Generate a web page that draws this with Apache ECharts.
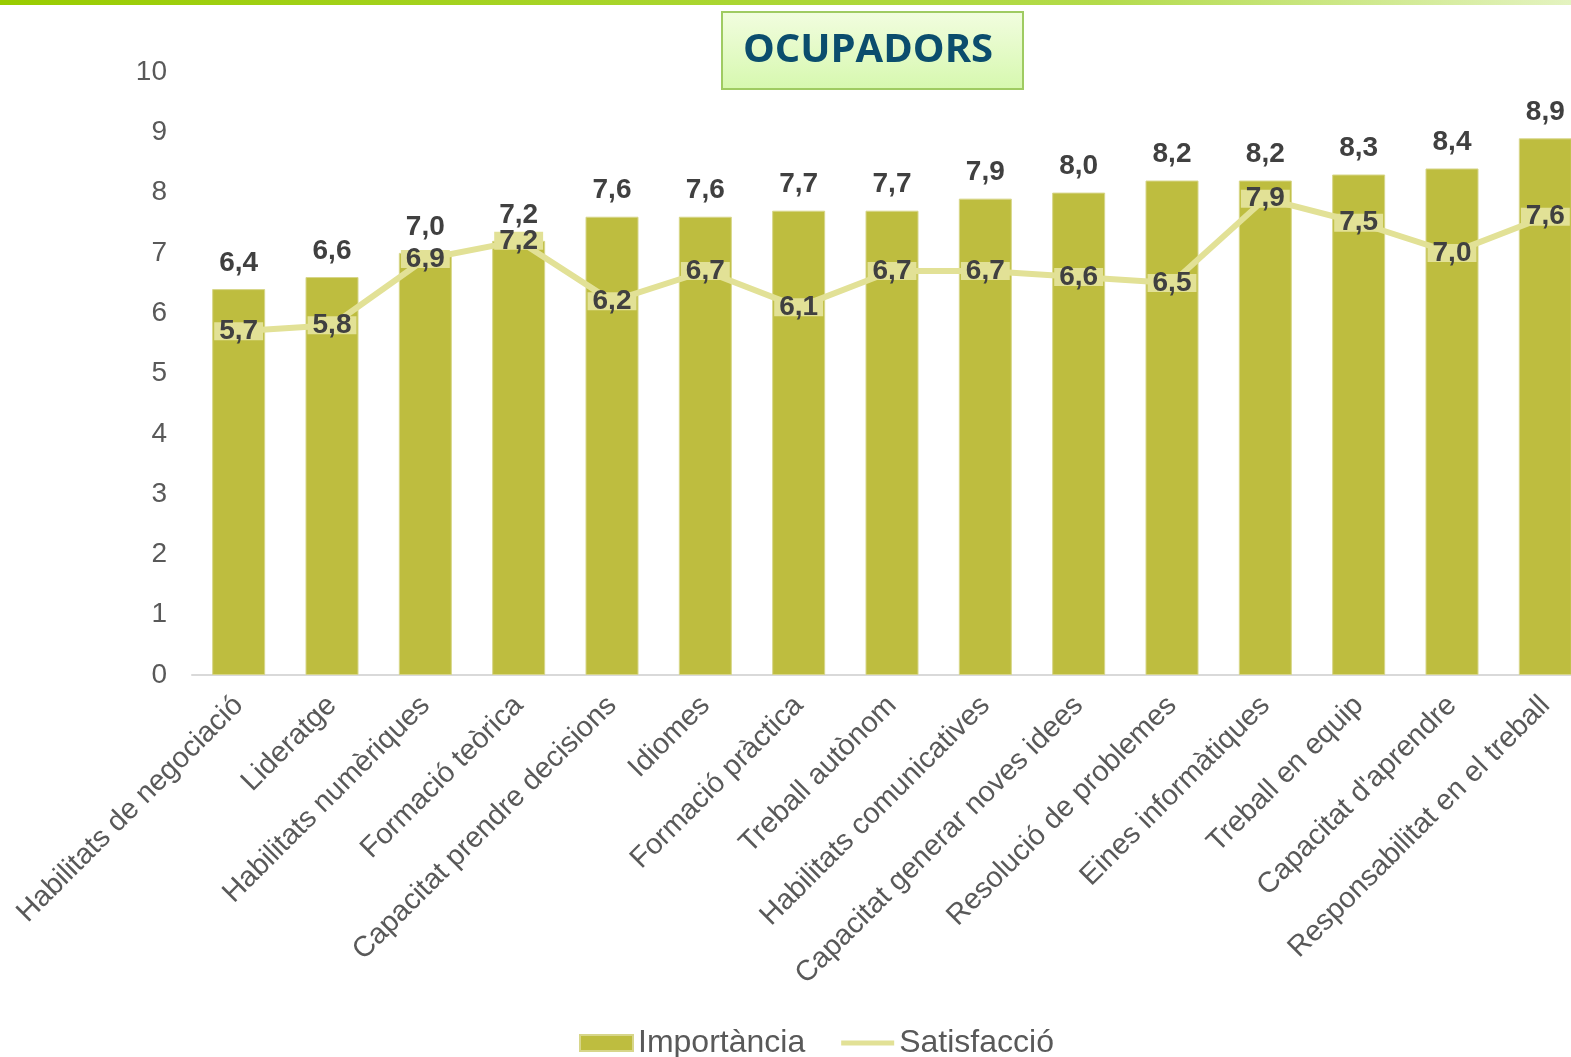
<!DOCTYPE html>
<html><head><meta charset="utf-8">
<script src="https://cdn.jsdelivr.net/npm/echarts@6/dist/echarts.min.js"></script>
<style>html,body{margin:0;padding:0;background:#fff}#c{width:1571px;height:1057px}</style>
</head><body><div id="c"></div>
<script>
const categories = ["Habilitats de negociació","Lideratge","Habilitats numèriques","Formació teòrica","Capacitat prendre decisions","Idiomes","Formació pràctica","Treball autònom","Habilitats comunicatives","Capacitat generar noves idees","Resolució de problemes","Eines informàtiques","Treball en equip","Capacitat d'aprendre","Responsabilitat en el treball"];
const importancia = [6.4,6.6,7.0,7.2,7.6,7.6,7.7,7.7,7.9,8.0,8.2,8.2,8.3,8.4,8.9];
const satisfaccio = [5.7,5.8,6.9,7.2,6.2,6.7,6.1,6.7,6.7,6.6,6.5,7.9,7.5,7.0,7.6];
const yTicks = [0,1,2,3,4,5,6,7,8,9,10];

const BAR = '#bebd3f', LINE = '#e2e196', TXT = '#404040', AX = '#595959';
const fmt = v => String(v.toFixed(1)).replace('.', ',');
const chart = echarts.init(document.getElementById('c'));
chart.setOption({
  backgroundColor: '#fff',
  animation: false,
  textStyle: {fontFamily: 'Liberation Sans, Arial, sans-serif'},
  graphic: [
    {type:'rect', x:0, y:0, shape:{width:1571, height:5}, style:{fill:new echarts.graphic.LinearGradient(0,0,1,0,[{offset:0,color:'#99cc00'},{offset:0.7,color:'#b3db4a'},{offset:1,color:'#e4f3c0'}])}},
    {type:'rect', x:722, y:12, shape:{width:301, height:77}, style:{fill:new echarts.graphic.LinearGradient(0,0,0,1,[{offset:0,color:'#f2fde0'},{offset:1,color:'#d6f8ae'}]), stroke:'#9fcb62', lineWidth:2}},
    {type:'text', x:868, y:51, style:{text:'OCUPADORS', fill:'#0b4d6d', font:'bold 40px "Open Sans", sans-serif', textAlign:'center', textVerticalAlign:'middle'}}
  ],
  legend: {
    bottom: -7, left: 574, itemGap: 36, itemWidth: 53, itemHeight: 16,
    textStyle: {fontSize: 32, color: AX, fontFamily: 'Liberation Sans, Arial, sans-serif', padding:[0,0,0,0]},
    data: [{name:'Importància', icon:'rect'}, {name:'Satisfacció', icon:'path://M0,0 H106 V10 H0 Z'}]
  },
  grid: {left: 192, width: 1400, top: 72, bottom: 382, outerBoundsMode: 'none'},
  xAxis: {
    type: 'category', data: categories,
    axisLine: {lineStyle: {color: '#d9d9d9', width: 2}},
    axisTick: {show: false},
    axisLabel: {rotate: 45, interval: 0, fontSize: 29, color: AX, margin: 26}
  },
  yAxis: {
    type: 'value', min: 0, max: 10, interval: 1,
    splitLine: {show: false},
    axisLine: {show: false}, axisTick: {show: false},
    axisLabel: {fontSize: 28, color: AX, margin: 25, formatter: v => yTicks.includes(v) ? String(v) : ''}
  },
  series: [
    {
      name: 'Importància', type: 'bar', data: importancia, barWidth: 53,
      itemStyle: {color: BAR, borderColor: '#d7d68a', borderWidth: 1},
      label: {show: true, position: 'top', distance: 12, fontSize: 28, fontWeight: 'bold', color: TXT, formatter: p => fmt(p.value)}
    },
    {
      name: 'Satisfacció', type: 'line', data: satisfaccio, symbol: 'circle', symbolSize: 1, showSymbol: true,
      lineStyle: {color: LINE, width: 6}, itemStyle: {color: LINE},
      label: {show: true, position: 'inside', fontSize: 28, fontWeight: 'bold', color: TXT,
        backgroundColor: LINE, padding: [0, 5], lineHeight: 18, formatter: p => fmt(p.value)},
      z: 3
    }
  ]
});
</script></body></html>
